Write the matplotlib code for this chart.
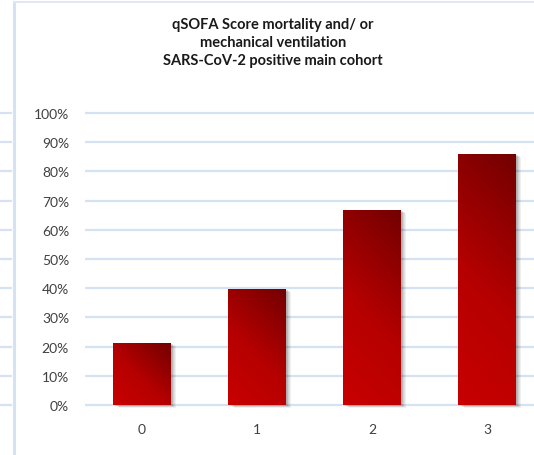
import numpy as np
import matplotlib
matplotlib.use("Agg")
import matplotlib.pyplot as plt
from matplotlib.patches import Rectangle
from matplotlib.lines import Line2D
from matplotlib.colors import LinearSegmentedColormap
from matplotlib import transforms

# qSOFA score categories and share with mortality and/or mechanical ventilation
scores = ['0', '1', '2', '3']
rates = [0.212, 0.397, 0.668, 0.86]
y_ticks = np.arange(0, 1.01, 0.1)
title = 'qSOFA Score mortality and/ or\nmechanical ventilation\nSARS-CoV-2 positive main cohort'

plt.rcParams['font.family'] = ['Lato', 'DejaVu Sans']

W, H = 534, 456
fig = plt.figure(figsize=(W / 100, H / 100), dpi=100)

grid_col = '#d5e2f3'

# main axes: 0% at y=406px, 100% at y=114px, bars centred 115px apart
ax = fig.add_axes([85 / W, (H - 420) / H, (W - 85) / W, 320 / H])
for s in ax.spines.values():
    s.set_visible(False)
ax.set_yticks(y_ticks)
ax.set_yticklabels([f'{int(round(v * 100))}%' for v in y_ticks])
ax.yaxis.grid(True, color=grid_col, linewidth=1.6)
ax.set_axisbelow(True)
ax.tick_params(axis='y', length=0, pad=11.5, labelsize=10, labelcolor='#404040')
ax.tick_params(axis='x', length=0, pad=3, labelsize=10, labelcolor='#404040')

cmap = LinearSegmentedColormap.from_list(
    'bar', [(0, '#c80000'), (0.45, '#b60000'), (1, '#730000')])

xs = np.arange(len(scores))
bw = 0.5
bars = ax.bar(xs, rates, width=bw, color='none', zorder=3)

for bar, val in zip(bars, rates):
    x0 = bar.get_x()
    # soft drop shadow to the right and below
    for k in range(1, 7):
        tr = transforms.offset_copy(ax.transData, fig=fig, x=k * 0.9, y=-k * 0.45, units='dots')
        ax.add_patch(Rectangle((x0, 0), bw, val, facecolor='#000000', alpha=0.06,
                               edgecolor='none', transform=tr, zorder=2))
    # 45 degree gradient, bright at bottom-left, dark at top-right
    w_px, h_px = 58, val * 292
    nx, ny = 60, max(int(h_px), 2)
    gx, gy = np.meshgrid(np.linspace(0, w_px, nx), np.linspace(0, h_px, ny))
    t = (gx + gy) / (w_px + h_px)
    im = ax.imshow(cmap(t), extent=[x0, x0 + bw, 0, val], origin='lower',
                   aspect='auto', zorder=3, interpolation='bilinear')
    im.set_clip_path(Rectangle((x0, 0), bw, val, transform=ax.transData, facecolor='none'))

ax.set_xticks(xs)
ax.set_xticklabels(scores)
ax.set_xlim((85 - 142) / 115, (534 - 142) / 115)
ax.set_ylim(-14 / 292, 306 / 292)

fig.text(273 / W, (H - 43) / H, title, ha='center', va='center', fontsize=10.5,
         fontweight='bold', color='#1a1a1a', linespacing=1.4)

# neighbouring chart gridlines at the left edge
side = fig.add_axes([0, (H - 420) / H, 12 / W, 320 / H])
side.set_xlim(0, 1)
side.set_ylim(-14 / 296, 310 / 296)
side.set_yticks(y_ticks)
side.set_xticks([])
side.tick_params(axis='y', length=0, labelleft=False)
side.yaxis.grid(True, color=grid_col, linewidth=1.6)
side.patch.set_visible(False)
for s in side.spines.values():
    s.set_visible(False)

# frame lines
fig.add_artist(Line2D([14 / W, 14 / W], [0, (H - 3) / H], color='#d4e2f4', linewidth=2.2))
fig.add_artist(Line2D([14 / W, 1], [(H - 3) / H, (H - 3) / H], color='#dfe8f4', linewidth=1.4))

fig.savefig('out.png', dpi=100)
